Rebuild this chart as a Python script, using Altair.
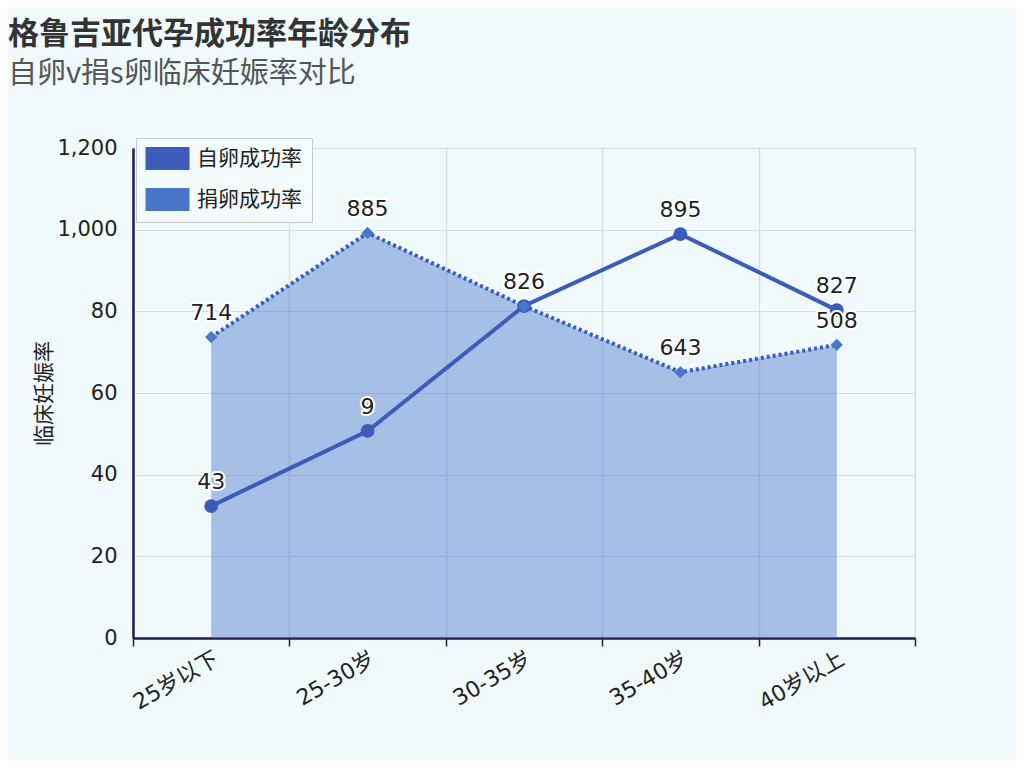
import altair as alt
import pandas as pd

categories = ["25岁以下", "25-30岁", "30-35岁", "35-40岁", "40岁以上"]
series_names = ["自卵成功率", "捐卵成功率"]
own_values = [32.3, 50.7, 81.3, 98.9, 80.3]
donor_values = [73.7, 99.2, 81.3, 65.1, 71.8]
own_labels = ["43", "9", "826", "895", "827"]
donor_labels = ["714", "885", "", "643", "508"]
y_tick_values = [0, 20, 40, 60, 80, 100, 120]
y_tick_labels = ["0", "20", "40", "60", "80", "1,000", "1,200"]

rows = []
for s, vals, labs in ((series_names[0], own_values, own_labels),
                      (series_names[1], donor_values, donor_labels)):
    for c, v, l in zip(categories, vals, labs):
        rows.append({"series": s, "category": c, "value": v, "label": l})
df = pd.DataFrame(rows)

expr = "datum.label"
for v, l in zip(reversed(y_tick_values), reversed(y_tick_labels)):
    expr = f"datum.value == {v} ? '{l}' : ({expr})"

FONT = "DejaVu Sans, Noto Sans CJK SC"
BLUE = "#3b5cb8"
NAVY = "#1c1f4d"
GRID = "#d2dde8"

x = alt.X(
    "category:N",
    sort=categories,
    scale=alt.Scale(paddingInner=0, paddingOuter=0),
    axis=alt.Axis(
        title=None, labelAngle=-30, labelAlign="right", labelBaseline="top",
        tickBand="extent", grid=True, gridColor=GRID, gridWidth=1.2,
        domainColor=NAVY, domainWidth=2.5, tickColor=NAVY, tickWidth=1.5,
        tickSize=8, labelPadding=2, labelFontSize=22, labelColor="#222",
        labelFont=FONT,
    ),
)
y = alt.Y(
    "value:Q",
    scale=alt.Scale(domain=[0, 120], nice=False, zero=True),
    axis=alt.Axis(
        title="临床妊娠率", values=y_tick_values, labelExpr=expr,
        grid=True, gridColor=GRID, gridWidth=1.2, ticks=False,
        domainColor=NAVY, domainWidth=2.5, labelPadding=16,
        labelFontSize=21, labelColor="#222", labelFont=FONT,
        titleFontSize=21, titleFontWeight="normal", titleColor="#222",
        titleFont="Noto Sans CJK SC", titlePadding=2,
    ),
)

color = alt.Color(
    "series:N",
    scale=alt.Scale(domain=series_names, range=["#3b5cb8", "#4a76c9"]),
    legend=alt.Legend(
        title=None, orient="none", legendX=3, legendY=-10,
        symbolType="M-2.75,-1.45H2.75V1.45H-2.75Z", symbolSize=256,
        labelFontSize=21, labelFont="Noto Sans CJK SC", labelColor="#222",
        strokeColor="#c8c8c8", fillColor="#f3fbfd", padding=10,
        rowPadding=16, labelOffset=19, symbolOffset=11, symbolStrokeWidth=0,
        symbolOpacity=1,
    ),
)

base = alt.Chart(df).encode(x=x, y=y)
donor = base.transform_filter(alt.datum.series == series_names[1])
own = base.transform_filter(alt.datum.series == series_names[0])

area = donor.mark_area(color="#4a78cc", opacity=0.45)
line_donor = donor.mark_line(color=BLUE, strokeWidth=4, strokeDash=[3, 3])
line_own = own.mark_line(color=BLUE, strokeWidth=4)

pts_own = own.mark_point(filled=True, opacity=1, size=190, shape="circle").encode(color=color)
pts_donor = donor.mark_point(filled=True, opacity=1, size=150, shape="diamond").encode(color=color)

halo = base.mark_text(
    fontSize=22, font=FONT, baseline="bottom", dy=-12,
    stroke="white", strokeWidth=4, strokeJoin="round", color="white",
).encode(text="label:N")
labels = base.mark_text(
    fontSize=22, font=FONT, baseline="bottom", dy=-12, color="#222",
).encode(text="label:N")

chart = alt.layer(area, line_donor, line_own, pts_own, pts_donor, halo, labels).properties(
    width=782,
    height=490,
    background="#f0f9fb",
    autosize=alt.AutoSizeParams(type="none"),
    padding={"left": 125, "top": 140, "right": 101, "bottom": 122},
    title=alt.TitleParams(
        text="格鲁吉亚代孕成功率年龄分布",
        subtitle="自卵v捐s卵临床妊娠率对比",
        anchor="start", frame="group", dx=-125, offset=47,
        font="Noto Sans CJK SC", fontSize=31, fontWeight="bold", color="#333",
        subtitleFont="Noto Sans CJK SC", subtitleFontSize=29,
        subtitleColor="#555", subtitlePadding=9,
    ),
).configure_view(stroke=GRID, strokeWidth=1.2)

chart.save("out.html", embed_options={"renderer": "svg", "actions": False})
